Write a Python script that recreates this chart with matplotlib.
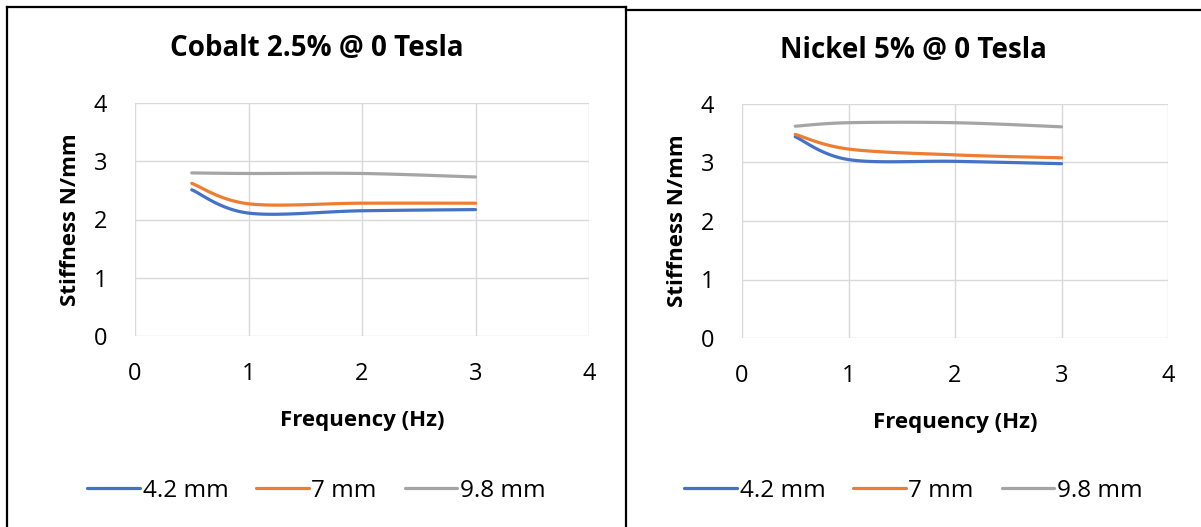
import numpy as np
import matplotlib
matplotlib.use("Agg")
import matplotlib.pyplot as plt
from matplotlib.lines import Line2D

plt.rcParams['font.family'] = ['Open Sans', 'DejaVu Sans']

# ---- data ----
freq = [0.5, 1, 2, 3]
series_labels = ["4.2 mm", "7 mm", "9.8 mm"]
cobalt_42 = [2.51, 2.11, 2.15, 2.17]
cobalt_70 = [2.62, 2.27, 2.28, 2.28]
cobalt_98 = [2.80, 2.79, 2.79, 2.73]
nickel_42 = [3.44, 3.05, 3.02, 2.98]
nickel_70 = [3.48, 3.23, 3.13, 3.08]
nickel_98 = [3.62, 3.68, 3.68, 3.61]
ticks = [0, 1, 2, 3, 4]

colors = ["#4472C4", "#ED7D31", "#A5A5A5"]

W, H = 1201, 527
fig = plt.figure(figsize=(W / 100, H / 100), dpi=100)


def smooth(xs, ys, n=40):
    """Bezier smoothing through each point (Catmull-Rom style control points)."""
    P = np.column_stack([xs, ys]).astype(float)
    out = [P[0]]
    m = len(P)
    t = np.linspace(0, 1, n)[1:, None]
    for i in range(m - 1):
        p0 = P[i - 1] if i > 0 else P[i]
        p1, p2 = P[i], P[i + 1]
        p3 = P[i + 2] if i + 2 < m else P[i + 1]
        c1 = p1 + (p2 - p0) / 6
        c2 = p2 - (p3 - p1) / 6
        seg = ((1 - t) ** 3) * p1 + 3 * ((1 - t) ** 2) * t * c1 + 3 * (1 - t) * t ** 2 * c2 + t ** 3 * p2
        out.extend(seg)
    out = np.array(out)
    return out[:, 0], out[:, 1]


def panel(rect, frame_x0, frame_x1, title, data, title_px):
    ax = fig.add_axes(rect)
    for vals, c, lab in zip(data, colors, series_labels):
        sx, sy = smooth(freq, vals)
        ax.plot(sx, sy, color=c, lw=2.3, label=lab, solid_capstyle='round')
    ax.set_xlim(0, 4)
    ax.set_ylim(0, 4)
    ax.set_xticks(ticks)
    ax.set_yticks(ticks)
    ax.grid(True, color="#D9D9D9", lw=1.0)
    ax.set_axisbelow(True)
    for s in ax.spines.values():
        s.set_visible(False)
    ax.tick_params(length=0, labelsize=17, colors="black")
    ax.tick_params(axis='y', pad=20)
    ax.tick_params(axis='x', pad=19)
    ax.set_xlabel("Frequency (Hz)", fontsize=16, fontweight='bold', labelpad=17)
    ax.set_ylabel("Stiffness N/mm", fontsize=16, fontweight='bold', labelpad=9)

    cx = (frame_x0 + frame_x1) / 2
    fig.text(cx / W, 1 - title_px / H, title, fontsize=20, fontweight='bold',
             ha='center', va='center')

    x0, x1 = rect[0] * W, (rect[0] + rect[2]) * W
    y_bot = (1 - rect[1]) * H
    y_h = rect[3] * H
    ax.legend(loc='center', bbox_to_anchor=((cx - x0) / (x1 - x0), (y_bot - 491) / y_h),
              ncol=3, frameon=False, fontsize=17.5, handlelength=2.15,
              handletextpad=0.12, columnspacing=1.15, borderpad=0)
    return ax


panel([135 / W, 1 - 336 / H, (589 - 135) / W, (336 - 103) / H], 7, 626,
      "Cobalt 2.5% @ 0 Tesla", [cobalt_42, cobalt_70, cobalt_98], 48)
panel([742 / W, 1 - 338 / H, (1168 - 742) / W, (338 - 104) / H], 626, W,
      "Nickel 5% @ 0 Tesla", [nickel_42, nickel_70, nickel_98], 50)


# chart frames
def seg(x0, y0, x1, y1):
    fig.add_artist(Line2D([x0 / W, x1 / W], [1 - y0 / H, 1 - y1 / H],
                          color="black", lw=1.6, transform=fig.transFigure))


seg(7, 7, 626, 7)
seg(7, 7, 7, H)
seg(626, 7, 626, H)
seg(626, 9.5, W, 9.5)

fig.savefig("out.png", dpi=100)
